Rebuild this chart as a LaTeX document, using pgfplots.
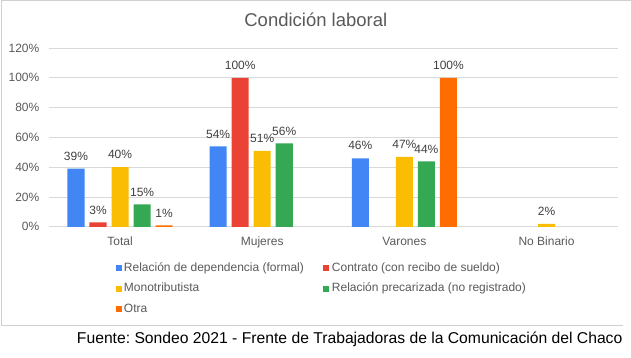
\documentclass[border=0pt]{standalone}
\usepackage{pgfplots}
\pgfplotsset{compat=1.18}
\usepackage{fontspec}
\setmainfont{Liberation Sans}
\frenchspacing
\definecolor{cblue}{HTML}{4285F4}
\definecolor{cred}{HTML}{EA4335}
\definecolor{cyellow}{HTML}{FBBC04}
\definecolor{cgreen}{HTML}{34A853}
\definecolor{corange}{HTML}{FF6D01}
\definecolor{txt}{HTML}{595959}
\definecolor{lbl}{HTML}{404040}
\definecolor{grd}{HTML}{D9D9D9}
\definecolor{brd}{HTML}{D0D0D0}
\begin{document}
\begin{tikzpicture}[x=1bp,y=1bp]
\path (0,0) rectangle (631,358);
\draw[brd, line width=0.8bp] (631,357.5) -- (1,357.5) -- (1,32) -- (623,32);
\node[font=\fontsize{18.5bp}{22bp}\selectfont, text=txt] at (316,338) {Condición laboral};
\begin{axis}[
  at={(49bp,131bp)}, anchor=south west,
  scale only axis, width=569bp, height=179bp,
  xmin=-0.5, xmax=3.5, ymin=0, ymax=120,
  clip=false,
  ybar, bar width=0.12,
  /pgf/number format/assume math mode=true,
  xtick={0,1,2,3}, xticklabels={Total,Mujeres,Varones,No Binario},
  ytick={0,20,40,60,80,100,120},
  yticklabels={0\%,20\%,40\%,60\%,80\%,100\%,120\%},
  major tick length=0,
  axis x line*=bottom, axis y line*=left,
  y axis line style={draw=none},
  x axis line style={draw=grd, line width=0.8bp, -},
  ymajorgrids, grid style={grd, line width=0.8bp},
  tick label style={font=\fontsize{12bp}{14bp}\selectfont, text=txt, inner sep=0},
  xticklabel style={anchor=north, text height=8.6bp, text depth=2.5bp, yshift=-9.4bp},
  yticklabel style={anchor=east, xshift=-9.5bp},
  nodes near coords={\pgfmathprintnumber[assume math mode=true]{\pgfplotspointmeta}\%},
  every node near coord/.append style={font=\fontsize{12bp}{14bp}\selectfont, text=lbl, inner sep=0, anchor=south, yshift=8bp},
  legend columns=2,
  legend cell align=left,
  legend image code/.code={\fill[#1] (0bp,-3bp) rectangle (6bp,3bp);},
  legend style={at={(0.1178,-0.1994)}, anchor=north west, draw=none, fill=none,
    inner sep=0, outer sep=0, row sep=9.4bp,
    font=\fontsize{12bp}{14bp}\selectfont, text=txt,
    nodes={inner sep=0, text height=8.6bp, text depth=2.5bp},
    /tikz/column 1/.style={column sep=2bp},
    /tikz/column 2/.style={column sep=19bp},
    /tikz/column 3/.style={column sep=3bp}},
]
\addplot[fill=cblue, draw=none, bar shift=-0.31] coordinates {(0,39) (1,54) (2,46)};
\addlegendentry{Relación de dependencia (formal)}
\addplot[fill=cred, draw=none, bar shift=-0.155] coordinates {(0,3) (1,100)};
\addlegendentry{Contrato (con recibo de sueldo)}
\addplot[fill=cyellow, draw=none, bar shift=0] coordinates {(0,40) (1,51) (2,47) (3,2)};
\addlegendentry{Monotributista}
\addplot[fill=cgreen, draw=none, bar shift=0.155] coordinates {(0,15) (1,56) (2,44)};
\addlegendentry{Relación precarizada (no registrado)}
\addplot[fill=corange, draw=none, bar shift=0.31] coordinates {(0,1) (2,100)};
\addlegendentry{Otra}
\end{axis}
\node[anchor=east, inner sep=0, font=\fontsize{15.7bp}{18bp}\selectfont] at (623,18) {Fuente: Sondeo 2021 - Frente de Trabajadoras de la Comunicación del Chaco};
\end{tikzpicture}
\end{document}
